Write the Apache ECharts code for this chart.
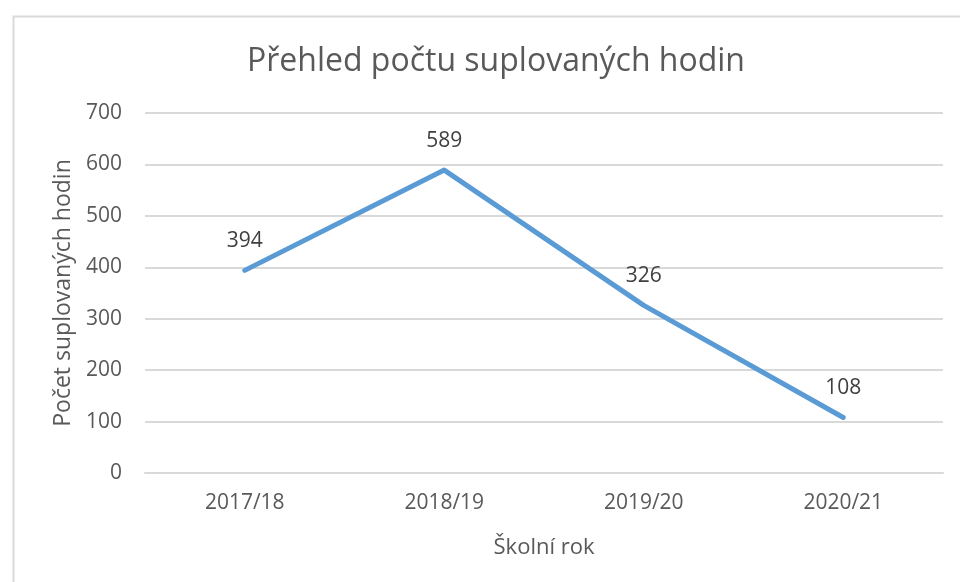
<!DOCTYPE html>
<html><head><meta charset="utf-8">
<script src="https://cdn.jsdelivr.net/npm/echarts@6/dist/echarts.min.js"></script>
<style>html,body{margin:0;padding:0;background:#fff}#c{width:960px;height:582px}</style>
</head><body><div id="c"></div>
<script>
const categories = ['2017/18', '2018/19', '2019/20', '2020/21'];
const values = [394, 589, 326, 108];
const yTicks = { min: 0, max: 700, interval: 100 };
const titleText = 'Přehled počtu suplovaných hodin';
const xName = 'Školní rok';
const yName = 'Počet suplovaných hodin';

const font = "'Open Sans', 'Noto Sans', sans-serif";
const chart = echarts.init(document.getElementById('c'), null, { renderer: 'canvas' });
chart.setOption({
  animation: false,
  backgroundColor: '#fff',
  graphic: [{
    type: 'rect', left: 11, top: 14, silent: true,
    shape: { width: 1000, height: 700 },
    style: { fill: 'none', stroke: '#d9d9d9', lineWidth: 2 }
  }],
  title: {
    text: titleText, left: 242, top: 41,
    textStyle: { fontFamily: font, fontSize: 32, fontWeight: 'normal', color: '#595959' }
  },
  grid: { left: 145, right: 17, top: 113, bottom: 109 },
  xAxis: {
    type: 'category', data: categories, boundaryGap: true,
    name: xName, nameLocation: 'middle', nameGap: 64,
    nameTextStyle: { fontFamily: font, fontSize: 22, color: '#595959' },
    axisLine: { lineStyle: { color: '#d9d9d9', width: 2 } },
    axisTick: { show: false },
    axisLabel: { fontFamily: font, fontSize: 21, color: '#595959', margin: 20 }
  },
  yAxis: {
    type: 'value', min: yTicks.min, max: yTicks.max, interval: yTicks.interval,
    name: yName, nameLocation: 'middle', nameGap: 68, nameRotate: 90,
    nameTextStyle: { fontFamily: font, fontSize: 23, color: '#595959' },
    axisLine: { show: false }, axisTick: { show: false },
    axisLabel: { fontFamily: font, fontSize: 21, color: '#595959', margin: 23 },
    splitLine: { lineStyle: { color: '#d9d9d9', width: 2 } }
  },
  series: [{
    type: 'line', data: values, showSymbol: true, symbol: 'circle', symbolSize: 2,
    lineStyle: { color: '#5b9bd5', width: 5, cap: 'round', join: 'round' },
    itemStyle: { color: '#5b9bd5' },
    label: { show: true, position: 'top', distance: 18,
      fontFamily: font, fontSize: 21, color: '#404040' }
  }]
});
</script></body></html>
